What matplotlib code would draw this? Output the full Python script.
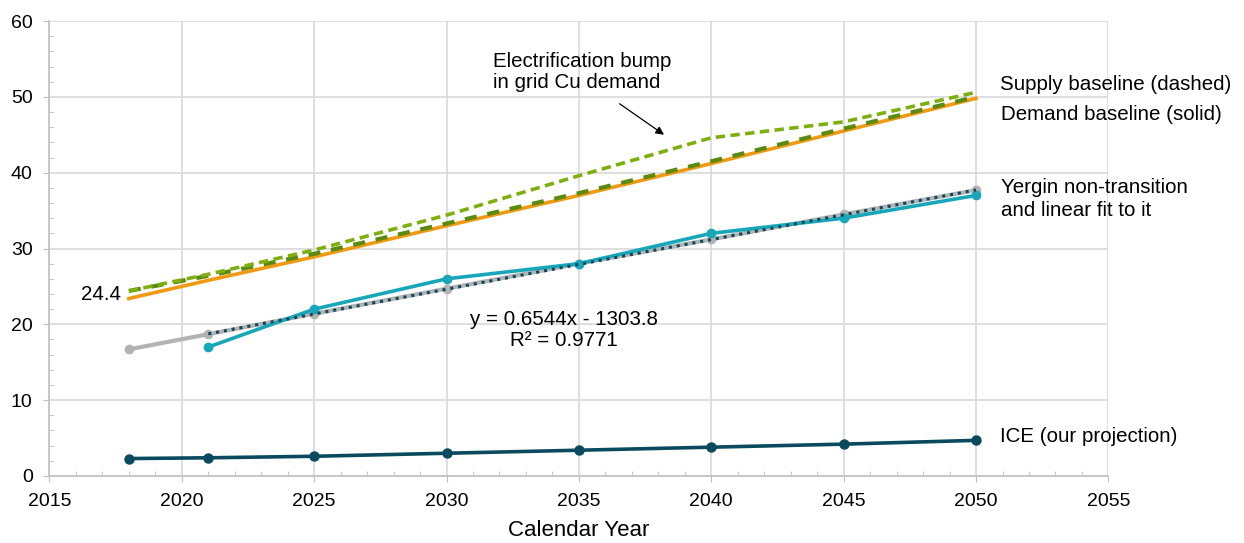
import numpy as np
import matplotlib
matplotlib.use("Agg")
import matplotlib.pyplot as plt

plt.rcParams['font.family'] = ['Liberation Sans', 'DejaVu Sans']

years = [2018, 2021, 2025, 2030, 2035, 2040, 2045, 2050]
demand_baseline = [23.4, 25.8, 28.9, 33.0, 37.0, 41.2, 45.5, 49.8]
supply_baseline = [24.4, 26.4, 29.3, 33.3, 37.3, 41.5, 45.8, 50.0]
supply_electrif = [24.4, 26.6, 29.8, 34.4, 39.6, 44.6, 46.7, 50.6]
gray_series = [16.7, 18.7, 21.4, 24.7, 28.0, 31.2, 34.5, 37.7]
yergin_years = [2021, 2025, 2030, 2035, 2040, 2045, 2050]
yergin = [17, 22, 26, 28, 32, 34, 37]
ice = [2.3, 2.4, 2.6, 3.0, 3.4, 3.8, 4.2, 4.7]

x_ticks = [2015, 2020, 2025, 2030, 2035, 2040, 2045, 2050, 2055]
y_ticks = [0, 10, 20, 30, 40, 50, 60]

c_orange = '#EF9A12'
c_lgreen = '#7DB00F'
c_dgreen = '#5B8A10'
c_teal = '#17A7B8'
c_gray = '#B3B3B3'
c_navy = '#0B4A5E'
c_grid = '#D9D9D9'
c_axis = '#BFBFBF'

fig = plt.figure(figsize=(12.44, 5.43), dpi=100)
ax = fig.add_axes([0.0397, 0.1234, 0.8513, 0.8379])

# linear fit of Yergin series
slope, intercept = np.polyfit(yergin_years, yergin, 1)
fit_y = [slope * x + intercept for x in yergin_years]

ax.plot(years, gray_series, color=c_gray, lw=3, marker='o', ms=6, zorder=3)
ax.plot(yergin_years, yergin, color=c_teal, lw=2.6, marker='o', ms=6, zorder=4)
ax.plot(yergin_years, fit_y, color=c_navy, lw=2.2, ls=(0, (1, 1.6)), zorder=5)
ax.plot(years, ice, color=c_navy, lw=2.6, marker='o', ms=6.5, zorder=4)
ax.plot(years, demand_baseline, color=c_orange, lw=2.6, zorder=3)
ax.plot(years, supply_baseline, color=c_dgreen, lw=3, ls=(0, (2.9, 2.6)), zorder=4)
ax.plot(years, supply_electrif, color=c_lgreen, lw=2.6, ls=(0, (2.6, 1.5)), zorder=5)

ax.set_xlim(2015, 2055)
ax.set_ylim(0, 60)
ax.set_xticks(x_ticks)
ax.set_yticks(y_ticks)
ax.set_xticks(range(2015, 2056), minor=True)
ax.set_yticks(range(0, 61, 2), minor=True)
ax.grid(True, which='major', color=c_grid, lw=1.2, zorder=0)
for s in ['top', 'right']:
    ax.spines[s].set_visible(False)
for s in ['bottom', 'left']:
    ax.spines[s].set_color(c_axis)
    ax.spines[s].set_linewidth(1.2)
ax.tick_params(axis='both', which='major', direction='out', length=4.6, color=c_axis, labelsize=14)
ax.tick_params(axis='both', which='minor', direction='in', length=3.4, color=c_axis)
ax.tick_params(axis='x', which='major', pad=8)
ax.tick_params(axis='y', which='major', pad=7.4)
ax.set_xlabel('Calendar Year', fontsize=16, labelpad=7)

fs = 14.8
ax.text(2050.9, 51.6, 'Supply baseline (dashed)', fontsize=fs, va='center', ha='left', clip_on=False)
ax.text(2050.95, 47.7, 'Demand baseline (solid)', fontsize=fs, va='center', ha='left', clip_on=False)
ax.text(2050.95, 36.5, 'Yergin non-transition\nand linear fit to it', fontsize=fs, va='center', ha='left',
        linespacing=1.3, clip_on=False)
ax.text(2050.9, 5.2, 'ICE (our projection)', fontsize=fs, va='center', ha='left', clip_on=False)
ax.text(2017.7, 24.0, '24.4', fontsize=fs, va='center', ha='right')
ax.text(2034.45, 19.3, 'y = 0.6544x - 1303.8\nR² = 0.9771', fontsize=fs, va='center', ha='center',
        linespacing=1.15)
ax.text(2031.75, 53.3, 'Electrification bump\nin grid Cu demand', fontsize=fs, va='center', ha='left',
        linespacing=1.15)
ax.annotate('', xy=(2038.3, 44.8), xytext=(2036.45, 49.3),
            arrowprops=dict(arrowstyle='-|>', color='black', lw=0.9, mutation_scale=12))

fig.savefig('out.png', dpi=100)
